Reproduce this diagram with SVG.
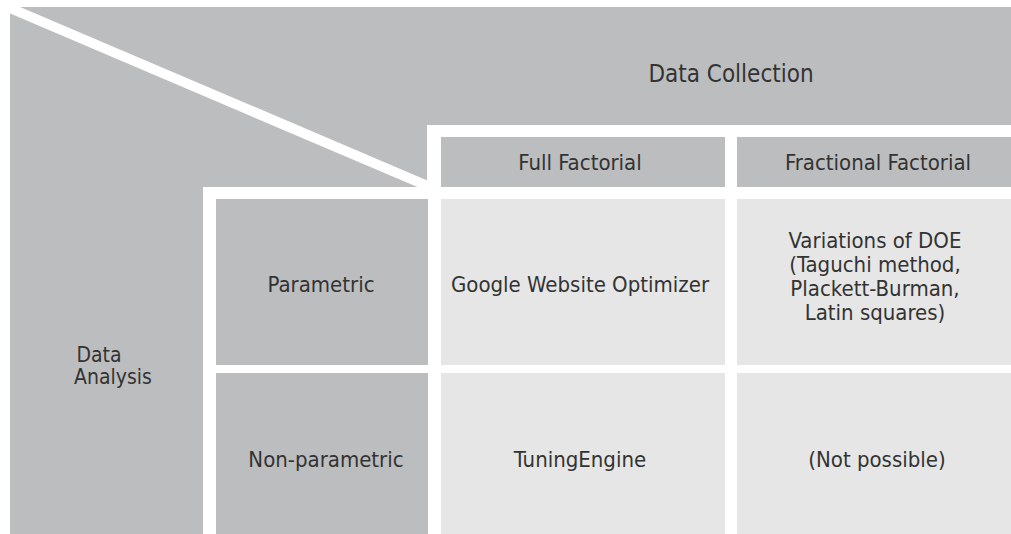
<svg xmlns="http://www.w3.org/2000/svg" width="1011" height="534" viewBox="0 0 1011 534">
<style>
.hd{fill:#bcbdbf}
.bd{fill:#e6e6e6}
.t{font-family:"DejaVu Sans Condensed","DejaVu Sans",sans-serif;font-stretch:condensed;font-size:22px;fill:#333;text-anchor:middle}
</style>
<rect x="0" y="0" width="1011" height="534" fill="#fff"/>
<g id="background">
<rect class="hd" x="10" y="7" width="1001" height="527"/>
<rect x="203" y="187" width="808" height="347" fill="#fff"/>
<rect x="427" y="125" width="584" height="74" fill="#fff"/>
</g>
<g id="connectors">
<line x1="4" y1="5.5" x2="430" y2="187" stroke="#fff" stroke-width="10"/>
</g>
<g id="data-collection"><text class="t" x="731" y="82" style="font-size:24px">Data Collection</text></g>
<g id="data-analysis"><text class="t" x="99" y="362" style="font-size:21px">Data</text><text class="t" x="113" y="384" style="font-size:21px">Analysis</text></g>
<g id="full-factorial"><rect class="hd" x="441" y="137" width="284" height="50"/><text class="t" x="580" y="170">Full Factorial</text></g>
<g id="fractional-factorial"><rect class="hd" x="737" y="137" width="274" height="50"/><text class="t" x="878" y="170">Fractional Factorial</text></g>
<g id="parametric"><rect class="hd" x="216" y="199" width="212" height="166"/><text class="t" x="321" y="292">Parametric</text></g>
<g id="non-parametric"><rect class="hd" x="216" y="373" width="212" height="161"/><text class="t" x="326" y="467">Non-parametric</text></g>
<g id="gwo"><rect class="bd" x="441" y="199" width="284" height="166"/><text class="t" x="580" y="292">Google Website Optimizer</text></g>
<g id="doe"><rect class="bd" x="737" y="199" width="274" height="166"/>
<text class="t" x="875" y="248">Variations of DOE</text>
<text class="t" x="875" y="272">(Taguchi method,</text>
<text class="t" x="875" y="296">Plackett-Burman,</text>
<text class="t" x="875" y="320">Latin squares)</text></g>
<g id="tuning-engine"><rect class="bd" x="441" y="373" width="284" height="161"/><text class="t" x="580" y="467">TuningEngine</text></g>
<g id="not-possible"><rect class="bd" x="737" y="373" width="274" height="161"/><text class="t" x="877" y="467">(Not possible)</text></g>
</svg>
